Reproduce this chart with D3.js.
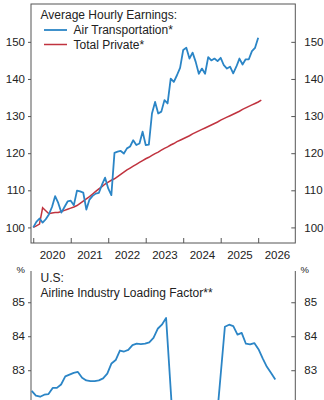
<!DOCTYPE html>
<html><head><meta charset="utf-8">
<script src="https://cdn.jsdelivr.net/npm/d3@7"></script>
<style>
html,body{margin:0;padding:0;background:#fff;}
svg{display:block;font-family:"Liberation Sans",Arial,sans-serif;}
</style></head>
<body><svg id="c" width="324" height="400"></svg>
<script>
// ---------- Top panel data (monthly, index 2020 = 100) ----------
const earnMonthsStart = "2020-01";
const airTransportation = [
 100.0,101.5,102.4,101.3,102.2,103.5,105.5,108.4,106.6,104.0,105.5,107.0,
 107.2,106.0,109.9,109.7,109.4,104.8,107.5,108.5,109.1,109.3,111.5,113.4,
 110.5,108.7,120.1,120.4,120.6,119.9,121.3,121.8,123.5,122.2,122.6,125.8,
 122.2,122.3,130.7,133.8,130.7,131.2,134.3,133.4,140.1,139.2,141.0,143.0,
 147.8,148.4,145.5,147.1,144.6,141.4,142.8,141.4,145.9,145.0,145.5,144.8,
 145.7,143.7,142.8,143.3,141.5,143.3,145.5,143.9,145.3,145.3,147.5,148.4,
 151.1];
const totalPrivate = [
 100.0,100.4,100.9,105.3,104.5,103.7,103.9,104.0,104.0,104.3,104.6,104.9,
 105.2,105.5,105.9,106.5,107.1,107.7,108.3,109.0,109.7,110.4,111.0,111.7,
 112.2,112.7,113.1,113.7,114.3,114.9,115.5,116.0,116.5,117.0,117.5,118.0,
 118.5,118.9,119.4,119.9,120.3,120.8,121.3,121.7,122.2,122.6,123.1,123.5,
 123.9,124.3,124.7,125.2,125.6,126.0,126.4,126.8,127.2,127.6,128.0,128.4,
 128.9,129.3,129.7,130.1,130.5,130.9,131.3,131.8,132.2,132.6,133.0,133.4,
 133.8,134.3];
const yearTicks = [2020,2021,2022,2023,2024,2025,2026];
const topYTicks = [100,110,120,130,140,150];

// ---------- Bottom panel data (monthly, %) ----------
const loadMonths = [
 "2017-06","2017-07","2017-08","2017-09","2017-10","2017-11","2017-12",
 "2018-01","2018-02","2018-03","2018-04","2018-05","2018-06","2018-07","2018-08","2018-09","2018-10","2018-11","2018-12",
 "2019-01","2019-02","2019-03","2019-04","2019-05","2019-06","2019-07","2019-08","2019-09","2019-10","2019-11","2019-12",
 "2020-01","2020-02","2020-08",
 "2021-04","2021-05","2021-06","2021-07","2021-08","2021-09","2021-10","2021-11","2021-12",
 "2022-01","2022-02","2022-03","2022-04"];
const loadFactor = [
 82.39,82.25,82.22,82.28,82.30,82.48,82.48,
 82.58,82.82,82.87,82.92,82.95,82.78,82.70,82.68,82.68,82.70,82.76,82.90,
 83.20,83.30,83.58,83.55,83.60,83.74,83.78,83.77,83.78,83.82,83.95,84.22,
 84.34,84.54,73.0,
 84.28,84.34,84.30,84.05,84.10,83.78,83.76,83.80,83.62,
 83.35,83.10,82.92,82.73];
const bottomYTicks = [83,84,85];

// ---------- helpers ----------
const toDec = s => { const [y,m] = s.split("-").map(Number); return y + (m-1)/12; };
const monthSeq = (start, n) => { const t0 = toDec(start); return d3.range(n).map(i => t0 + i/12); };

const svg = d3.select("#c");
const FONT = "#222", AX = "#555";
const blue = "#2b85c6", red = "#c0333f";

// ---------- Top panel ----------
const L = 31, R = 295.3, T1 = 4, B1 = 243;
const x1 = d3.scaleLinear().domain([2019.94, 2026.99]).range([L, R]);
const y1 = d3.scaleLinear().domain([95.8, 160.2]).range([B1, T1]);

svg.append("rect").attr("x", L).attr("y", T1).attr("width", R-L).attr("height", B1-T1)
  .attr("fill","none").attr("stroke", AX).attr("stroke-width", 1);

const gl = svg.append("g").attr("transform", `translate(${L},0)`)
  .call(d3.axisLeft(y1).tickValues(topYTicks).tickSize(3).tickPadding(3).tickFormat(d3.format("d")));
const gr = svg.append("g").attr("transform", `translate(${R},0)`)
  .call(d3.axisRight(y1).tickValues(topYTicks).tickSize(-4).tickPadding(9).tickFormat(d3.format("d")));
const gb = svg.append("g").attr("transform", `translate(0,${B1})`)
  .call(d3.axisBottom(x1).tickValues(yearTicks).tickSize(-5).tickFormat(""));
const gbl = svg.append("g").attr("transform", `translate(0,${B1})`)
  .call(d3.axisBottom(x1).tickValues(yearTicks.map(y => y+0.5)).tickSize(0).tickPadding(8)
        .tickFormat(d => String(Math.floor(d))));
[gl,gr,gb,gbl].forEach(g => {
  g.select(".domain").remove();
  g.selectAll("line").attr("stroke", AX);
  g.selectAll("text").attr("fill", FONT).style("font-size","11.5px").style("font-family",'"Liberation Sans",Arial,sans-serif');
});

const tx = airTransportation.map((v,i) => [monthSeq(earnMonthsStart, airTransportation.length)[i], v]);
const tp = totalPrivate.map((v,i) => [monthSeq(earnMonthsStart, totalPrivate.length)[i], v]);
const line1 = d3.line().x(d => x1(d[0])).y(d => y1(d[1]));
svg.append("path").datum(tp).attr("d", line1).attr("fill","none").attr("stroke", red).attr("stroke-width",1.5);
svg.append("path").datum(tx).attr("d", line1).attr("fill","none").attr("stroke", blue).attr("stroke-width",1.8).attr("stroke-linejoin","round");

const lg = svg.append("g").style("font-size","12px").attr("fill", FONT);
lg.append("text").attr("x", 40.5).attr("y", 18.5).text("Average Hourly Earnings:");
lg.append("line").attr("x1",44).attr("x2",67).attr("y1",30).attr("y2",30).attr("stroke",blue).attr("stroke-width",1.8);
lg.append("text").attr("x", 73.5).attr("y", 34).text("Air Transportation*");
lg.append("line").attr("x1",44).attr("x2",67).attr("y1",44.5).attr("y2",44.5).attr("stroke",red).attr("stroke-width",1.5);
lg.append("text").attr("x", 73.5).attr("y", 48.5).text("Total Private*");

// ---------- Bottom panel ----------
const T2 = 271, B2 = 812;
const x2 = d3.scaleLinear().domain([2017.403, 2022.647]).range([L, R]);
const y2 = d3.scaleLinear().domain([70.0, 85.92]).range([B2, T2]);

svg.append("line").attr("x1",L).attr("x2",L).attr("y1",T2).attr("y2",B2).attr("stroke",AX);
svg.append("line").attr("x1",R).attr("x2",R).attr("y1",T2).attr("y2",B2).attr("stroke",AX);
const gl2 = svg.append("g").attr("transform", `translate(${L},0)`)
  .call(d3.axisLeft(y2).tickValues(bottomYTicks).tickSize(3).tickPadding(3).tickFormat(d3.format("d")));
const gr2 = svg.append("g").attr("transform", `translate(${R},0)`)
  .call(d3.axisRight(y2).tickValues(bottomYTicks).tickSize(-4).tickPadding(9).tickFormat(d3.format("d")));
[gl2,gr2].forEach(g => {
  g.select(".domain").remove();
  g.selectAll("line").attr("stroke", AX);
  g.selectAll("text").attr("fill", FONT).style("font-size","11.5px").style("font-family",'"Liberation Sans",Arial,sans-serif');
});
svg.append("text").attr("x", 25).attr("y", 273).attr("text-anchor","end").attr("fill",FONT).style("font-size","9.5px").text("%");
svg.append("text").attr("x", 300.5).attr("y", 273).attr("fill",FONT).style("font-size","9.5px").text("%");

const lf = loadFactor.map((v,i) => [toDec(loadMonths[i]), v]);
const line2 = d3.line().x(d => x2(d[0])).y(d => y2(d[1]));
svg.append("path").datum(lf).attr("d", line2).attr("fill","none").attr("stroke", blue).attr("stroke-width",1.8).attr("stroke-linejoin","round");

const tg = svg.append("g").style("font-size","12px").attr("fill", FONT);
tg.append("text").attr("x", 40.5).attr("y", 281.5).text("U.S:");
tg.append("text").attr("x", 40.5).attr("y", 296.5).text("Airline Industry Loading Factor**");
</script>
</body></html>
